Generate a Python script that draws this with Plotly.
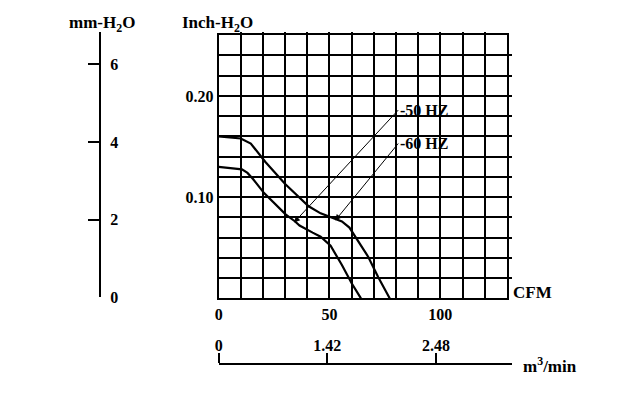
import plotly.graph_objects as go

# ---- data ----
cfm_60hz = [0, 10, 14.5, 21, 30, 40.6, 46, 51, 55.6, 59, 61, 67.5, 72, 77.2]
inh2o_60hz = [0.160, 0.158, 0.153, 0.135, 0.113, 0.091, 0.084, 0.080, 0.076, 0.070, 0.063, 0.041, 0.021, 0.0]

cfm_50hz = [0, 10.5, 13, 15.5, 20.5, 30.2, 34.5, 36.5, 42.4, 46, 50.5, 55.6, 60, 64.2]
inh2o_50hz = [0.130, 0.1275, 0.124, 0.118, 0.104, 0.083, 0.076, 0.072, 0.065, 0.061, 0.052, 0.033, 0.015, 0.0]

x_grid = list(range(0, 131, 10))
x_labels = {0: "0", 50: "50", 100: "100"}
y_grid = [round(i * 0.02, 2) for i in range(14)]
y_labels = {0.10: "0.10", 0.20: "0.20"}

mm_ticks = [0, 2, 4, 6]
m3_labels = ["0", "1.42", "2.48"]
m3_at_cfm = [0, 49, 98]

label_50 = dict(text="50 HZ", head=(34, 0.075), tail=(81, 0.186))
label_60 = dict(text="60 HZ", head=(52.6, 0.077), tail=(81, 0.153))

FONT = "Liberation Serif"
W, H = 640, 400
MM_RANGE = [0, 6.83]
MM_DOMAIN = [(H - 304) / H, (H - 33) / H]

fig = go.Figure()
for xs, ys in [(cfm_60hz, inh2o_60hz), (cfm_50hz, inh2o_50hz)]:
    fig.add_trace(go.Scatter(x=xs, y=ys, mode="lines",
                             line=dict(color="black", width=2.2),
                             showlegend=False, hoverinfo="skip"))

# invisible traces to activate the auxiliary axes
for xa, ya in [("x", "y2"), ("x", "y4"), ("x3", "y")]:
    fig.add_trace(go.Scatter(x=[0], y=[0], xaxis=xa, yaxis=ya, mode="markers",
                             marker=dict(opacity=0), showlegend=False, hoverinfo="skip"))

tickfont = dict(family=FONT, size=16, color="black", weight="bold")

fig.update_layout(
    width=W, height=H,
    margin=dict(l=0, r=0, t=0, b=0),
    paper_bgcolor="white", plot_bgcolor="rgba(0,0,0,0)",
    xaxis=dict(domain=[216 / W, 506 / W], range=[0, 130],
               tickvals=x_grid, ticktext=[x_labels.get(v, "") for v in x_grid],
               showgrid=True, gridcolor="black", gridwidth=2,
               showline=True, linecolor="black", linewidth=2, mirror=True,
               zeroline=False, ticks="", tickfont=tickfont, fixedrange=True),
    yaxis=dict(domain=[(H - 305.3) / H, (H - 36) / H], range=[0, 0.26],
               tickvals=y_grid, ticktext=[y_labels.get(v, "") for v in y_grid],
               showgrid=True, gridcolor="black", gridwidth=2,
               showline=True, linecolor="black", linewidth=2, mirror=True,
               zeroline=False, ticks="", tickfont=tickfont, fixedrange=True),
    # mm-H2O axis: line + ticks
    yaxis2=dict(domain=MM_DOMAIN, range=MM_RANGE,
                anchor="free", position=96.7 / W, side="right",
                tickvals=mm_ticks, ticks="inside", ticklen=11, tickwidth=2,
                tickcolor="black", showline=True, linecolor="black", linewidth=2,
                showticklabels=False,
                showgrid=False, zeroline=False, fixedrange=True),
    # mm-H2O axis: labels
    yaxis4=dict(domain=MM_DOMAIN, range=MM_RANGE,
                anchor="free", position=106 / W, side="right",
                tickvals=mm_ticks, ticks="", showline=False,
                showgrid=False, zeroline=False, tickfont=tickfont, fixedrange=True),
    xaxis3=dict(domain=[216 / W, 510.7 / W], range=[0, 130 * (510.7 - 216) / (506 - 216)],
                anchor="free", position=(H - 372.5) / H, side="top",
                tickvals=m3_at_cfm, ticktext=m3_labels, ticks="outside", ticklen=10,
                tickwidth=2, tickcolor="black", showline=True, linecolor="black",
                linewidth=2, showgrid=False, zeroline=False, tickfont=tickfont,
                ticklabelstandoff=-4, fixedrange=True),
)

annots = [
    dict(text="mm-H<sub>2</sub>O", x=99 / W, y=(H - 25) / H, size=17),
    dict(text="Inch-H<sub>2</sub>O", x=215 / W, y=(H - 25) / H, size=17),
    dict(text="CFM", x=532 / W, y=(H - 299) / H, size=17),
    dict(text="m<sup>3</sup>/min", x=549 / W, y=(H - 373) / H, size=17),
]
for a in annots:
    size = a.pop("size")
    fig.add_annotation(xref="paper", yref="paper", showarrow=False,
                       xanchor="center", yanchor="middle",
                       font=dict(family=FONT, size=size, color="black", weight="bold"),
                       **a)

for lab in (label_50, label_60):
    fig.add_annotation(x=lab["head"][0], y=lab["head"][1], xref="x", yref="y",
                       ax=lab["tail"][0], ay=lab["tail"][1], axref="x", ayref="y",
                       text="-" + lab["text"], showarrow=True, arrowhead=2,
                       arrowsize=1.2, arrowwidth=1, arrowcolor="black",
                       xanchor="left", yanchor="middle",
                       font=dict(family=FONT, size=16, color="black", weight="bold"))

fig.write_html("out.html")
